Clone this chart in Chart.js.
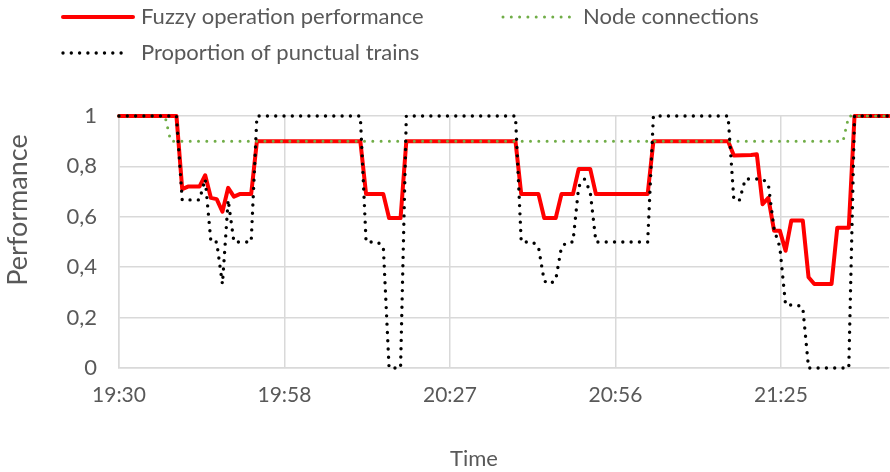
<!DOCTYPE html>
<html>
<head>
<meta charset="utf-8">
<script src="https://cdn.jsdelivr.net/npm/chart.js@4.4.1/dist/chart.umd.min.js"></script>
<style>
  html, body { margin: 0; padding: 0; background: #fff; }
</style>
</head>
<body>
<canvas id="chart" width="890" height="472"></canvas>
<script>
// time is in minutes after 19:30
const fuzzyTime  = [0, 10, 11, 12, 14, 15, 16, 17, 18, 19, 20, 21, 23, 24, 42, 43, 46, 47, 49, 50, 69, 70, 73, 74, 76, 77, 79, 80, 82, 83, 92, 93, 106, 107, 110, 111, 112, 113, 114, 115, 116, 117, 119, 120, 121, 124, 125, 127, 128, 134];
const fuzzyValue = [1, 1, 0.71, 0.72, 0.72, 0.765, 0.675, 0.67, 0.62, 0.715, 0.68, 0.69, 0.69, 0.9, 0.9, 0.69, 0.69, 0.595, 0.595, 0.9, 0.9, 0.69, 0.69, 0.595, 0.595, 0.69, 0.69, 0.79, 0.79, 0.69, 0.69, 0.9, 0.9, 0.843, 0.845, 0.848, 0.65, 0.675, 0.545, 0.545, 0.465, 0.585, 0.585, 0.36, 0.333, 0.333, 0.557, 0.557, 1, 1];

const nodeTime  = [0, 8, 9, 126, 127, 134];
const nodeValue = [1, 1, 0.9, 0.9, 1, 1];

const punctualTime  = [0, 10, 11, 14, 15, 16, 17, 18, 19, 20, 23, 24, 42, 43, 45, 46, 47, 49, 50, 69, 70, 72, 73, 74, 75, 76, 77, 78, 79, 80, 81, 82, 83, 92, 93, 106, 107, 108, 109, 112, 113, 114, 115, 116, 118, 119, 120, 127, 128, 134];
const punctualValue = [1, 1, 0.667, 0.667, 0.75, 0.5, 0.5, 0.333, 0.667, 0.5, 0.5, 1, 1, 0.5, 0.5, 0.48, 0, 0, 1, 1, 0.5, 0.5, 0.48, 0.345, 0.333, 0.35, 0.48, 0.5, 0.5, 0.72, 0.75, 0.7, 0.5, 0.5, 1, 1, 0.667, 0.667, 0.75, 0.75, 0.73, 0.55, 0.48, 0.25, 0.25, 0.24, 0, 0, 1, 1];

const xTickMinutes = [0, 28.8, 57.6, 86.4, 115.2];
const xTickLabels  = ['19:30', '19:58', '20:27', '20:56', '21:25'];
const yTickValues  = [0, 0.2, 0.4, 0.6, 0.8, 1];
const yTickLabels  = ['0', '0,2', '0,4', '0,6', '0,8', '1'];

const seriesNames = ['Fuzzy operation performance', 'Node connections', 'Proportion of punctual trains'];
const xTitle = 'Time';
const yTitle = 'Performance';

const FONT = 'Lato, "Open Sans", sans-serif';
const GREY = '#595959';

function toPoints(ts, vs) {
  return ts.map((t, i) => ({ x: t, y: vs[i] }));
}

// legend drawn like the excel one (two columns), plus the axis titles
const excelLegend = {
  id: 'excelLegend',
  afterDraw(chart) {
    const ctx = chart.ctx;
    const spots = [
      { x: 63, y: 17, len: 70, tx: 141 },
      { x: 503, y: 17, len: 70, tx: 583 },
      { x: 63, y: 53, len: 64, tx: 141 }
    ];
    ctx.save();
    chart.data.datasets.forEach((ds, i) => {
      const s = spots[i];
      ctx.beginPath();
      ctx.strokeStyle = ds.borderColor;
      ctx.lineWidth = ds.borderWidth;
      ctx.lineCap = ds.borderCapStyle || 'butt';
      ctx.setLineDash(ds.borderDash || []);
      ctx.moveTo(s.x, s.y);
      ctx.lineTo(s.x + s.len, s.y);
      ctx.stroke();
      ctx.setLineDash([]);
      ctx.fillStyle = GREY;
      ctx.font = '22px ' + FONT;
      ctx.textBaseline = 'middle';
      ctx.textAlign = 'left';
      ctx.fillText(ds.label, s.tx, s.y);
    });
    ctx.textAlign = 'center';
    ctx.fillText(xTitle, 474, 459);
    ctx.translate(18, 210);
    ctx.rotate(-Math.PI / 2);
    ctx.font = '27px ' + FONT;
    ctx.fillText(yTitle, 0, 0);
    ctx.restore();
  }
};

const data = {
  datasets: [
    {
      label: seriesNames[0],
      data: toPoints(fuzzyTime, fuzzyValue),
      borderColor: '#ff0000',
      borderWidth: 4,
      borderCapStyle: 'round',
      borderJoinStyle: 'round',
      order: 2
    },
    {
      label: seriesNames[1],
      data: toPoints(nodeTime, nodeValue),
      borderColor: '#70ad47',
      borderWidth: 3,
      borderDash: [0, 8.3],
      borderCapStyle: 'round',
      order: 1
    },
    {
      label: seriesNames[2],
      data: toPoints(punctualTime, punctualValue),
      borderColor: '#000000',
      borderWidth: 3.4,
      borderDash: [0, 8.3],
      borderCapStyle: 'round',
      order: 0
    }
  ]
};

const config = {
  type: 'line',
  data: data,
  options: {
    responsive: false,
    animation: false,
    devicePixelRatio: 1,
    layout: { padding: { top: 116, right: 1, left: 0, bottom: 0 } },
    elements: { point: { radius: 0 }, line: { tension: 0 } },
    datasets: { line: { clip: 6 } },
    plugins: {
      legend: { display: false },
      tooltip: { enabled: false }
    },
    scales: {
      x: {
        type: 'linear',
        min: 0,
        max: 134,
        afterBuildTicks: (scale) => { scale.ticks = xTickMinutes.map(v => ({ value: v })); },
        afterFit: (scale) => { scale.height = 104; },
        ticks: {
          autoSkip: false,
          maxRotation: 0,
          padding: 15,
          color: GREY,
          font: { family: FONT, size: 21 },
          callback: (v, i) => xTickLabels[i]
        },
        grid: { color: '#d9d9d9', lineWidth: 1.5, drawTicks: false },
        border: { color: '#d9d9d9', width: 1.5 }
      },
      y: {
        min: 0,
        max: 1,
        afterBuildTicks: (scale) => { scale.ticks = yTickValues.map(v => ({ value: v })); },
        afterFit: (scale) => { scale.width = 119; },
        ticks: {
          padding: 22,
          color: GREY,
          font: { family: FONT, size: 22 },
          callback: (v, i) => yTickLabels[i]
        },
        grid: { color: '#d9d9d9', lineWidth: 1.5, drawTicks: false },
        border: { color: '#d9d9d9', width: 1.5 }
      }
    }
  },
  plugins: [excelLegend]
};

const chart = new Chart(document.getElementById('chart'), config);
</script>
</body>
</html>
